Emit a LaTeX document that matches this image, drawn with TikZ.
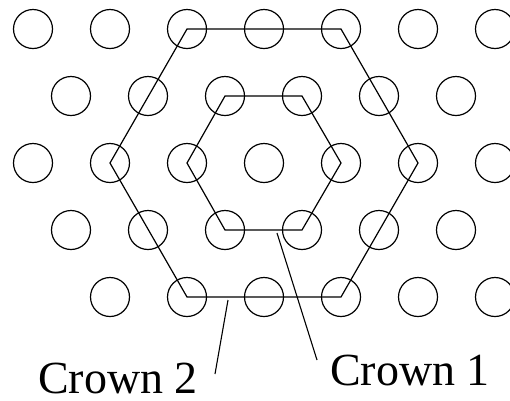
\documentclass[tikz,border=0pt]{standalone}
\usepackage{fontspec}
\setmainfont{Liberation Serif}
\usetikzlibrary{positioning}

\begin{document}
\begin{tikzpicture}[
    x=1pt, y=-1pt,
    site/.style={circle, draw, line width=1.2pt, minimum size=39pt, inner sep=0pt},
    crown/.style={draw, line width=1.2pt},
    leader/.style={draw, line width=1.1pt},
    label/.style={inner sep=0pt, text depth=0pt, anchor=base west, font=\fontsize{46}{50}\selectfont}
]
\useasboundingbox (0,0) rectangle (510,400);
\clip (0,0) rectangle (510,400);

% Sites (rows 0, 2 even; rows 1, 3 shifted)
\foreach \k in {0,...,6} {
    \node[site] (s0-\k) at ({33+77*\k},29) {};
    \node[site] (s2-\k) at ({33+77*\k},163) {};
}
\foreach \k in {0,...,5} {
    \node[site] (s1-\k) at ({71+77*\k},96) {};
    \node[site] (s3-\k) at ({71+77*\k},230) {};
}
\foreach \k in {1,...,6}
    \node[site] (s4-\k) at ({33+77*\k},297) {};

% Crowns
\draw[crown] (s1-2.center) -- (s1-3.center) -- (s2-4.center) -- (s3-3.center)
    -- (s3-2.center) -- (s2-2.center) -- cycle;
\draw[crown] (s0-2.center) -- (s0-4.center) -- (s2-5.center) -- (s4-4.center)
    -- (s4-2.center) -- (s2-1.center) -- cycle;

% Labels
\node[label] (lab2) at (38,393) {Crown 2};
\node[label] (lab1) at (330,385) {Crown 1};

\coordinate (tick2) at (228,300);
\coordinate (end2) at (215,374);
\coordinate (tick1) at (277,233);
\coordinate (end1) at (317,360);
\draw[leader] (tick2) -- (end2);
\draw[leader] (tick1) -- (end1);

\end{tikzpicture}
\end{document}
